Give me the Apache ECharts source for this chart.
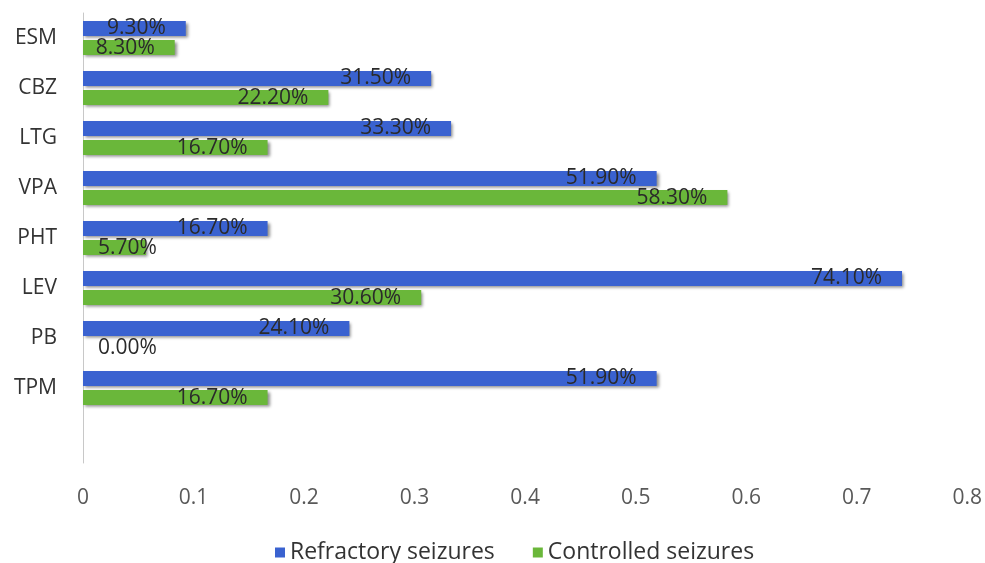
<!DOCTYPE html>
<html>
<head>
<meta charset="utf-8">
<script src="https://cdn.jsdelivr.net/npm/echarts@6/dist/echarts.min.js"></script>
<style>html,body{margin:0;padding:0;background:#fff;}#c{width:985px;height:563px;}</style>
</head>
<body>
<div id="c"></div>
<script>
const categories = ['ESM', 'CBZ', 'LTG', 'VPA', 'PHT', 'LEV', 'PB', 'TPM', ''];
const refractory = [0.093, 0.315, 0.333, 0.519, 0.167, 0.741, 0.241, 0.519, null];
const controlled = [0.083, 0.222, 0.167, 0.583, 0.057, 0.306, 0.0, 0.167, null];
const xTicks = [0, 0.1, 0.2, 0.3, 0.4, 0.5, 0.6, 0.7, 0.8];
const seriesNames = ['Refractory seizures', 'Controlled seizures'];

const FONT = '"Open Sans", sans-serif';
const labelBase = {
  show: true,
  position: 'insideRight',
  distance: 20,
  color: '#2a2a2a',
  fontFamily: FONT,
  fontSize: 21,
  formatter: p => p.value == null ? '' : (p.value * 100).toFixed(2) + '%'
};
// bars too short to hold their label get it placed from the axis instead
function toData(arr) {
  return arr.map(v => {
    if (v != null && v < 0.075) return { value: v, label: { position: 'insideLeft', distance: 15 } };
    return v;
  });
}
const shadow = { shadowColor: 'rgba(0,0,0,0.45)', shadowBlur: 3, shadowOffsetX: 2, shadowOffsetY: 2 };

const chart = echarts.init(document.getElementById('c'), null, { renderer: 'canvas' });
chart.setOption({
  animation: false,
  backgroundColor: '#ffffff',
  grid: { left: 83, right: 17, top: 13, bottom: 100, containLabel: false },
  legend: {
    data: seriesNames,
    left: 270,
    top: 536,
    icon: 'rect',
    itemWidth: 10,
    itemHeight: 10,
    itemGap: 38,
    textStyle: { fontFamily: FONT, fontSize: 23, color: '#333' }
  },
  xAxis: {
    type: 'value',
    min: 0, max: 0.8, interval: 0.1,
    axisLine: { show: false },
    axisTick: { show: false },
    splitLine: { show: false },
    axisLabel: {
      margin: 25,
      fontFamily: FONT, fontSize: 21, color: '#595959',
      formatter: v => { const t = xTicks.find(x => Math.abs(x - v) < 1e-9); return t === undefined ? '' : String(t); }
    }
  },
  yAxis: {
    type: 'category',
    data: categories,
    inverse: true,
    axisLine: { show: true, lineStyle: { color: '#c8c8c8', width: 1 } },
    axisTick: { show: false },
    axisLabel: { margin: 26, fontFamily: FONT, fontSize: 21, color: '#333' }
  },
  series: [
    {
      name: seriesNames[0], type: 'bar', data: toData(refractory),
      barWidth: 15, barGap: '27%',
      itemStyle: Object.assign({ color: '#3a62d0' }, shadow),
      label: labelBase
    },
    {
      name: seriesNames[1], type: 'bar', data: toData(controlled),
      barWidth: 15, barGap: '27%',
      itemStyle: Object.assign({ color: '#6ab73a' }, shadow),
      label: labelBase
    }
  ]
});
</script>
</body>
</html>
